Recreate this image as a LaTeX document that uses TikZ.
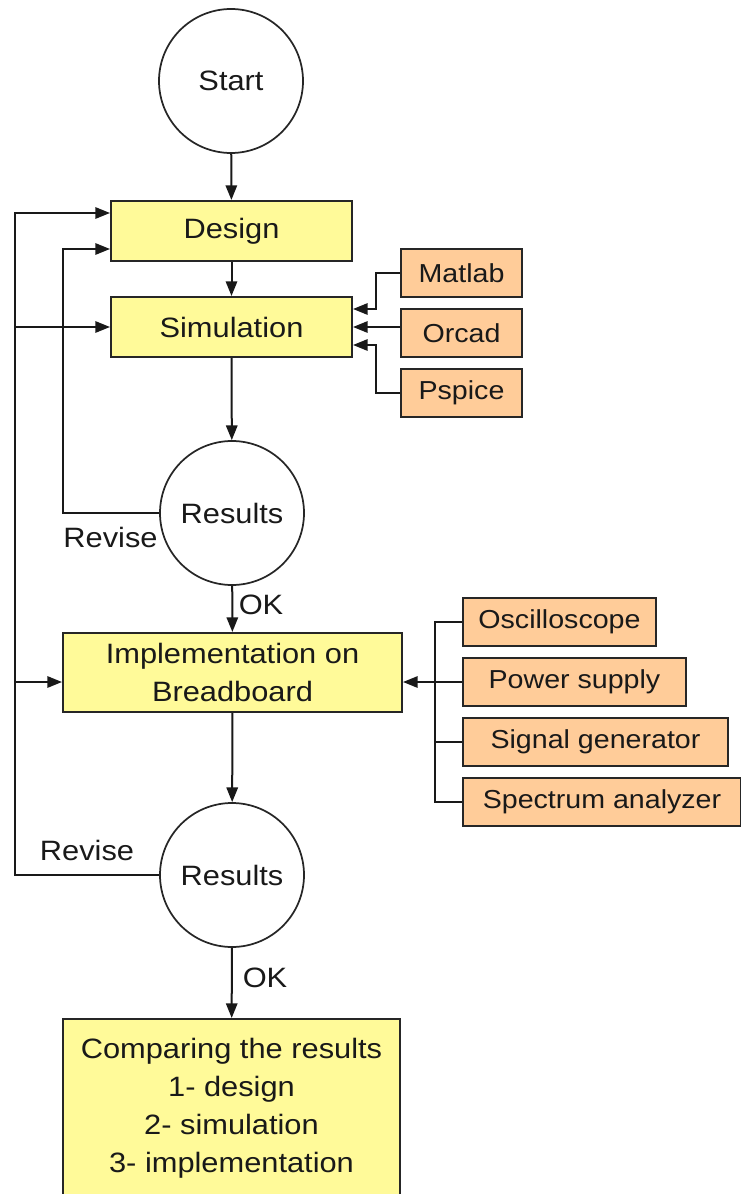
\documentclass[tikz,border=0pt]{standalone}
\usepackage{fontspec}
\setmainfont{Liberation Sans}[FakeStretch=1.1]
\usetikzlibrary{arrows.meta}

\begin{document}
\begin{tikzpicture}[x=0.75pt, y=-0.75pt, line width=1.5pt, draw=black!90,
    arr/.style={-{Triangle[length=11pt,width=8.5pt]}},
    box/.style={draw=black!85, line width=1.5pt, inner sep=0pt, align=center, text=black!90},
    yellowbox/.style={box, fill=yellow!40, font=\fontsize{21}{28.5}\selectfont},
    orangebox/.style={box, fill=orange!40, minimum height=36pt, anchor=west,
                      font=\fontsize{19.5}{24}\selectfont},
    roundnode/.style={circle, draw=black!85, line width=1.3pt, minimum size=108pt,
                      inner sep=0pt, text=black!90, font=\fontsize{21}{24}\selectfont},
    lbl/.style={inner sep=0pt, text=black!90, font=\fontsize{21}{24}\selectfont}]
    \useasboundingbox (0,0) rectangle (741,1194);
    \clip (0,0) rectangle (741,1194);

    % Main flow
    \node[roundnode] (start) at (231,81) {Start};
    \node[yellowbox, minimum width=180.75pt, minimum height=45pt] (design) at (231.5,231) {Design};
    \node[yellowbox, minimum width=180.75pt, minimum height=45pt] (sim) at (231.5,327) {Simulation};
    \node[roundnode] (res1) at (232,513) {Results};
    \node[yellowbox, minimum width=254.25pt, minimum height=59.25pt] (impl) at (232.5,672.5) {Implementation on\\Breadboard};
    \node[roundnode] (res2) at (232,875) {Results};
    \node[yellowbox, minimum width=252.75pt, minimum height=134.25pt, anchor=north] (comp) at (231.5,1018)
        {Comparing the results\\1- design\\2- simulation\\3- implementation};

    % Simulation tools
    \node[orangebox, minimum width=90.75pt] (matlab) at (400,273) {Matlab};
    \node[orangebox, minimum width=90.75pt] (orcad) at (400,333) {Orcad};
    \node[orangebox, minimum width=90.75pt] (pspice) at (400,393) {Pspice};

    % Lab equipment
    \node[orangebox, minimum width=144.75pt] (osc) at (462,622) {Oscilloscope};
    \node[orangebox, minimum width=167.25pt] (pow) at (462,682) {Power supply};
    \node[orangebox, minimum width=198.75pt] (sig) at (462,742) {Signal generator};
    \node[orangebox, minimum width=208.5pt] (spec) at (462,802) {Spectrum analyzer};

    % Labels
    \node[lbl] (rev1) at (110.5,537) {Revise};
    \node[lbl] (ok1) at (261,605) {OK};
    \node[lbl] (rev2) at (87,850) {Revise};
    \node[lbl] (ok2) at (265,978) {OK};

    % Straight arrows
    \draw[arr] (start) -- (design);
    \draw[arr] (design) -- (sim);
    \draw[arr] (sim) -- (res1);
    \draw[arr] (res1) -- (impl);
    \draw[arr] (impl) -- (res2);
    \draw[arr] (res2) -- (comp);

    % Tools into simulation
    \draw[arr] (matlab.west) -- ++(-24,0) |- ([yshift=13.5pt]sim.east);
    \draw[arr] (orcad.west |- sim.east) -- (sim.east);
    \draw[arr] (pspice.west) -- ++(-24,0) |- ([yshift=-13.5pt]sim.east);

    % Equipment into implementation
    \draw (osc.west) -- ++(-27,0) |- (spec.west);
    \draw (sig.west) -- ++(-27,0);
    \draw[arr] (pow.west) -- (pow.west -| impl.east);

    % Revise loops
    \coordinate (inner) at (63,249);
    \coordinate (outer) at (15,213);
    \draw[arr] (res1.west) -| (inner) -- (inner -| design.west);
    \draw[arr] (res2.west) -| (outer) -- (outer -| design.west);
    \draw[arr] (outer |- sim.west) -- (sim.west);
    \draw[arr] (outer |- pow.west) -- (impl.west |- pow.west);
\end{tikzpicture}
\end{document}
